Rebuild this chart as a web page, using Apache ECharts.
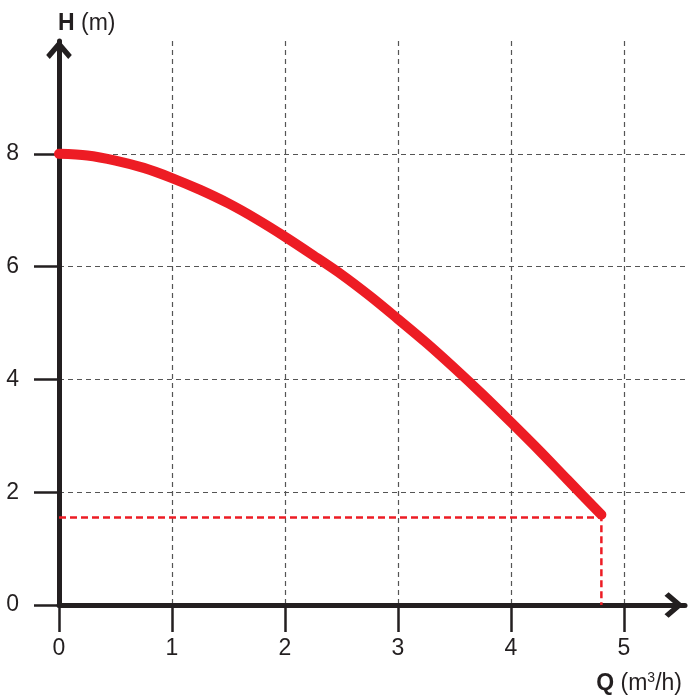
<!DOCTYPE html>
<html>
<head>
<meta charset="utf-8">
<script src="https://cdn.jsdelivr.net/npm/echarts@6/dist/echarts.min.js"></script>
<style>
html,body{margin:0;padding:0;background:#fff;}
#chart{width:690px;height:695px;}
</style>
</head>
<body>
<div id="chart"></div>
<script>
// Pump curve: flow Q (m3/h) vs head H (m)
const flowQ = [0, 0.25, 0.5, 0.75, 1, 1.25, 1.5, 1.75, 2, 2.25, 2.5, 2.75, 3, 3.25, 3.5, 3.75, 4, 4.25, 4.5, 4.8];
const headH = [8.0, 7.97, 7.88, 7.75, 7.57, 7.36, 7.12, 6.84, 6.53, 6.2, 5.86, 5.48, 5.07, 4.65, 4.2, 3.73, 3.24, 2.74, 2.22, 1.6];
// Duty point guide (dashed red)
const dutyQ = [0, 4.8, 4.8];
const dutyH = [1.55, 1.55, 0];
// Tick labels
const xTicks = [0, 1, 2, 3, 4, 5];
const yTicks = [0, 2, 4, 6, 8];
const xMax = 5.54;
const yMax = 10;

const ink = '#231f20';
const red = '#ed1c24';
const font = 'Liberation Sans, Arial, sans-serif';
const chevron = 'path://M50,0 L100,58 L86,74 L50,32 L14,74 L0,58 Z';

const chart = echarts.init(document.getElementById('chart'), null, {renderer: 'canvas'});
chart.setOption({
  animation: false,
  backgroundColor: '#ffffff',
  title: [
    {
      text: '{b|H} (m)', left: 53, top: 7,
      textStyle: {fontFamily: font, fontSize: 23, fontWeight: 'normal', color: ink,
        rich: {b: {fontFamily: font, fontSize: 23, fontWeight: 'bold', color: ink}}}
    },
    {
      text: '{b|Q} (m{s|3}/h)', right: 3, top: 666,
      textStyle: {fontFamily: font, fontSize: 23, fontWeight: 'normal', color: ink, lineHeight: 26,
        rich: {
          b: {fontFamily: font, fontSize: 23, fontWeight: 'bold', color: ink, lineHeight: 26},
          s: {fontFamily: font, fontSize: 14, color: ink, verticalAlign: 'top', lineHeight: 26, padding: [0, 0, 6, 0]}
        }}
    }
  ],
  grid: {left: 59, right: 5, top: 41, bottom: 90, containLabel: false},
  xAxis: {
    type: 'value', min: 0, max: xMax, interval: 1,
    axisLine: {show: true, onZero: false, lineStyle: {color: ink, width: 5},
      symbol: ['none', chevron], symbolSize: [30, 19], symbolOffset: [0, -11]},
    axisTick: {show: true, length: 27, lineStyle: {color: ink, width: 2.5}, customValues: xTicks},
    axisLabel: {margin: 32, fontFamily: font, fontSize: 23, color: ink, customValues: xTicks},
    splitLine: {show: true, lineStyle: {color: '#555', width: 1.2, type: [5, 4]}}
  },
  yAxis: {
    type: 'value', min: 0, max: yMax, interval: 2,
    axisLine: {show: true, onZero: false, lineStyle: {color: ink, width: 5},
      symbol: ['none', chevron], symbolSize: [30, 19], symbolOffset: [0, -8.5]},
    axisTick: {show: true, length: 25, lineStyle: {color: ink, width: 2.5}, customValues: yTicks},
    axisLabel: {margin: 40, fontFamily: font, fontSize: 23, color: ink, customValues: yTicks},
    splitLine: {show: true, lineStyle: {color: '#555', width: 1.2, type: [5, 4]}}
  },
  series: [
    {
      type: 'line', name: 'duty', data: dutyQ.map((q, i) => [q, dutyH[i]]),
      symbol: 'none', silent: true, z: 3,
      lineStyle: {color: red, width: 2.5, type: [7, 4]}
    },
    {
      type: 'line', name: 'curve', data: flowQ.map((q, i) => [q, headH[i]]),
      symbol: 'none', smooth: 0.3, silent: true, z: 4,
      lineStyle: {color: red, width: 10, cap: 'round', join: 'round'}
    }
  ]
});
</script>
</body>
</html>
